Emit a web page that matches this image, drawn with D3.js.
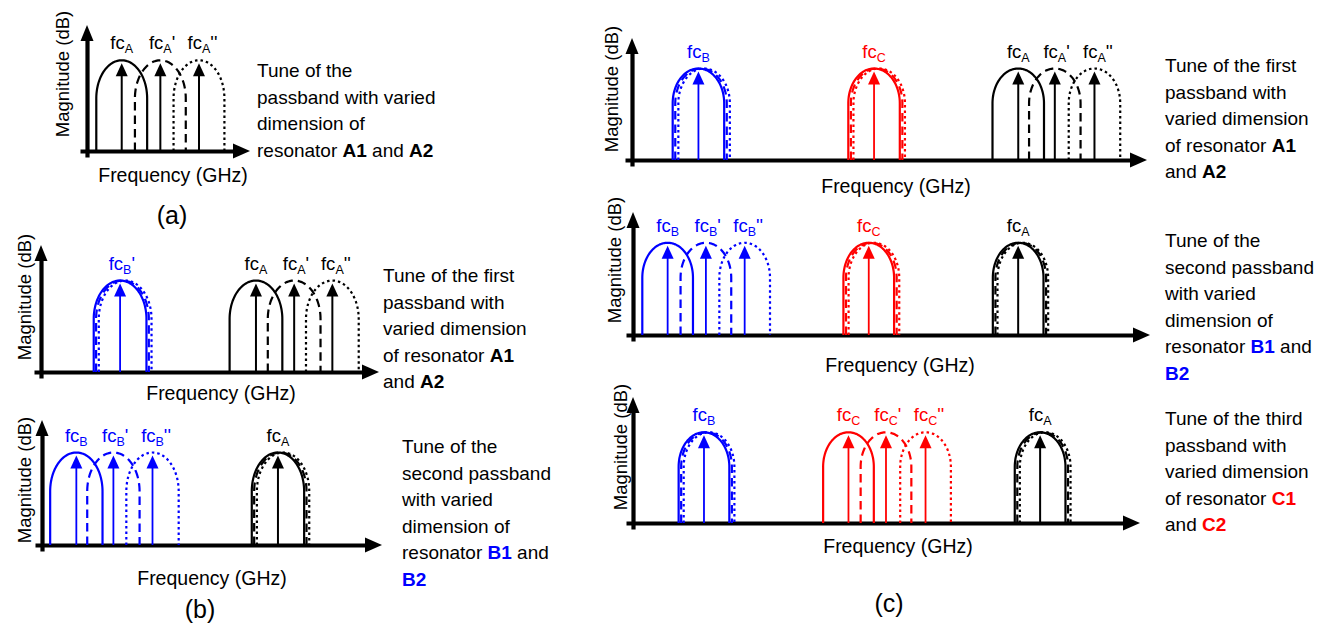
<!DOCTYPE html>
<html><head><meta charset="utf-8">
<script src="https://cdn.jsdelivr.net/npm/d3@7"></script>
<style>
body{margin:0;background:#fff}
svg{display:block}
text{font-family:"Liberation Sans",Arial,Helvetica,sans-serif}
</style>
</head><body>
<svg id="chart" width="1330" height="625"></svg>
<script>
// ---------------- DATA (frequency units 0..10 along each panel's axis) ----------------
// index 0 = solid, 1 = dashed, 2 = dotted response
const a_A  = [2.13, 4.50, 6.87];
const b1_B = [2.34, 2.41, 2.49];
const b1_A = [6.36, 7.49, 8.62];
const b2_B = [1.01, 2.10, 3.25];
const b2_A = [6.94, 7.01, 7.09];
const c1_B = [1.29, 1.34, 1.40];
const c1_C = [4.70, 4.75, 4.80];
const c1_A = [7.50, 8.21, 8.98];
const c2_B = [0.67, 1.41, 2.16];
const c2_C = [4.56, 4.61, 4.66];
const c2_A = [7.45, 7.50, 7.54];
const c3_B = [1.40, 1.45, 1.50];
const c3_C = [4.25, 4.99, 5.77];
const c3_A = [8.03, 8.08, 8.13];
// half bandwidth and peak magnitude per panel (a, b-top, b-bottom, c-top, c-mid, c-bottom)
const halfBandwidth = [1.56, 0.78, 0.77, 0.50, 0.49, 0.50];
const peakMagnitude = [0.72, 0.72, 0.74, 0.75, 0.75, 0.72];
// centre-frequency label primes
const tunedPrimes = ["", "'", "''"];
const fixedPrime  = [""];
const b1_Bprime   = ["'"];
// annotation texts
const a_note  = ["Tune of the", "passband with varied", "dimension of", "resonator **A1** and **A2**"];
const b1_note = ["Tune of the first", "passband with", "varied dimension", "of resonator **A1**", "and **A2**"];
const b2_note = ["Tune of the", "second passband", "with varied", "dimension of", "resonator **B1** and", "**B2**"];
const c1_note = ["Tune of the first", "passband with", "varied dimension", "of resonator **A1**", "and **A2**"];
const c2_note = ["Tune of the", "second passband", "with varied", "dimension of", "resonator **B1** and", "**B2**"];
const c3_note = ["Tune of the third", "passband with", "varied dimension", "of resonator **C1**", "and **C2**"];
const axisTitleX = "Frequency (GHz)";
const axisTitleY = "Magnitude (dB)";

const panelGroups = [
  [["A", a_A, tunedPrimes]],
  [["B", b1_B, b1_Bprime], ["A", b1_A, tunedPrimes]],
  [["B", b2_B, tunedPrimes], ["A", b2_A, fixedPrime]],
  [["B", c1_B, fixedPrime], ["C", c1_C, fixedPrime], ["A", c1_A, tunedPrimes]],
  [["B", c2_B, tunedPrimes], ["C", c2_C, fixedPrime], ["A", c2_A, fixedPrime]],
  [["B", c3_B, fixedPrime], ["C", c3_C, tunedPrimes], ["A", c3_A, fixedPrime]]
];
const panelNotes = [a_note, b1_note, b2_note, c1_note, c2_note, c3_note];

// ---------------- LAYOUT / STYLE ----------------
const COLORS = {A: "#000000", B: "#0000ff", C: "#ff0000"};
const DASH = [null, "8.5,5", "2.5,3"];
const layout = [
  {x0: 87,  tip: 250,  base: 151, top: 25,  magX: 69,  magY: 74,  freqX: 173, freqY: 182, noteX: 257,  noteY: 77,  shoulder: 0.58, tag: "(a)", tagX: 172, tagY: 224},
  {x0: 41,  tip: 379,  base: 372, top: 245, magX: 31,  magY: 297, freqX: 221, freqY: 400, noteX: 383,  noteY: 282, shoulder: 0.58},
  {x0: 42,  tip: 382,  base: 545, top: 420, magX: 31,  magY: 480, freqX: 212, freqY: 585, noteX: 402,  noteY: 453, shoulder: 0.58, tag: "(b)", tagX: 200, tagY: 618},
  {x0: 632, tip: 1147, base: 160, top: 38,  magX: 618, magY: 89,  freqX: 896, freqY: 193, noteX: 1165, noteY: 72,  shoulder: 0.62},
  {x0: 633, tip: 1150, base: 335, top: 212, magX: 621, magY: 260, freqX: 900, freqY: 372, noteX: 1165, noteY: 247, shoulder: 0.62},
  {x0: 633, tip: 1140, base: 523, top: 397, magX: 627, magY: 447, freqX: 898, freqY: 553, noteX: 1165, noteY: 425, shoulder: 0.62, tag: "(c)", tagX: 889, tagY: 612}
];
const LINE_H = 26.6;

const svg = d3.select("#chart");

layout.forEach((L, p) => {
  const g = svg.append("g");
  const x = d3.scaleLinear().domain([0, 10]).range([L.x0, L.tip]);
  const y = d3.scaleLinear().domain([0, 1]).range([L.base, L.top]);
  const hw = halfBandwidth[p], pk = peakMagnitude[p], sh = pk * L.shoulder;

  // axes (d3 axes without ticks, thick domain + arrow heads)
  const xAxisScale = d3.scaleLinear().range([L.x0 - 7, L.tip - 12]);
  const yAxisScale = d3.scaleLinear().range([L.base + 6, L.top + 12]);
  const gx = g.append("g").attr("transform", `translate(0,${L.base})`)
    .call(d3.axisBottom(xAxisScale).tickValues([]).tickSizeOuter(0));
  const gy = g.append("g").attr("transform", `translate(${L.x0},0)`)
    .call(d3.axisLeft(yAxisScale).tickValues([]).tickSizeOuter(0));
  [gx, gy].forEach(a => a.select(".domain").attr("stroke", "#000").attr("stroke-width", 4.2));
  g.append("path").attr("fill", "#000")
    .attr("d", `M${L.tip},${L.base} L${L.tip - 17},${L.base - 7.5} L${L.tip - 17},${L.base + 7.5} Z`);
  g.append("path").attr("fill", "#000")
    .attr("d", `M${L.x0},${L.top} L${L.x0 - 6.5},${L.top + 16} L${L.x0 + 6.5},${L.top + 16} Z`);

  const line = d3.line().x(d => x(d[0])).y(d => y(d[1]));
  const ts = d3.range(0, 73).map(k => Math.PI - Math.PI * k / 72);

  panelGroups[p].forEach(([key, centers, primes]) => {
    const col = COLORS[key];
    // responses: draw dotted, dashed, then solid on top
    [2, 1, 0].forEach(i => {
      const c = centers[i];
      const pts = [[c - hw, 0]].concat(ts.map(t => [c + hw * Math.cos(t), sh + (pk - sh) * Math.sin(t)]), [[c + hw, 0]]);
      g.append("path").attr("d", line(pts)).attr("fill", "none").attr("stroke", col)
        .attr("stroke-width", 2.2).attr("stroke-dasharray", DASH[i]);
    });
    // arrows + labels
    const tuned = primes.length > 1;
    const idx = tuned ? [0, 1, 2] : [0];
    idx.forEach(i => {
      const cx = x(centers[i]);
      const tipY = y(pk) + 3, headH = 13, headW = 6;
      g.append("line").attr("x1", cx).attr("x2", cx).attr("y1", y(0)).attr("y2", tipY + headH - 1)
        .attr("stroke", col).attr("stroke-width", key === "A" ? 2 : 1.8);
      g.append("path").attr("fill", col)
        .attr("d", `M${cx},${tipY} L${cx - headW},${tipY + headH} L${cx + headW},${tipY + headH} Z`);
      const t = g.append("text").attr("y", y(pk) - 11).attr("fill", col).attr("font-size", 18.5);
      const t0 = t.append("tspan").text("fc");
      const t1 = t.append("tspan").text(key).attr("font-size", 12.5).attr("dy", 4);
      if (primes[i]) t.append("tspan").text(primes[i]).attr("font-size", 18.5).attr("dy", -4);
      const w = t0.node().getComputedTextLength() + t1.node().getComputedTextLength();
      t.attr("x", cx - w / 2);
    });
  });

  // axis titles
  g.append("text").attr("x", L.freqX).attr("y", L.freqY).attr("text-anchor", "middle")
    .attr("font-size", 19.5).text(axisTitleX);
  g.append("text").attr("transform", `translate(${L.magX},${L.magY}) rotate(-90)`)
    .attr("text-anchor", "middle").attr("font-size", 18.5).text(axisTitleY);

  // note text
  panelNotes[p].forEach((ln, k) => {
    const t = g.append("text").attr("x", L.noteX).attr("y", L.noteY + k * LINE_H).attr("font-size", 19);
    ln.split(/(\*\*[^*]+\*\*)/).filter(s => s.length).forEach(s => {
      if (s.startsWith("**")) {
        const word = s.slice(2, -2);
        t.append("tspan").text(word).attr("font-weight", "bold").attr("fill", COLORS[word[0]]);
      } else {
        t.append("tspan").text(s).attr("fill", "#000");
      }
    });
  });

  if (L.tag) {
    g.append("text").attr("x", L.tagX).attr("y", L.tagY).attr("text-anchor", "middle")
      .attr("font-size", 25).text(L.tag);
  }
});
</script>
</body></html>
